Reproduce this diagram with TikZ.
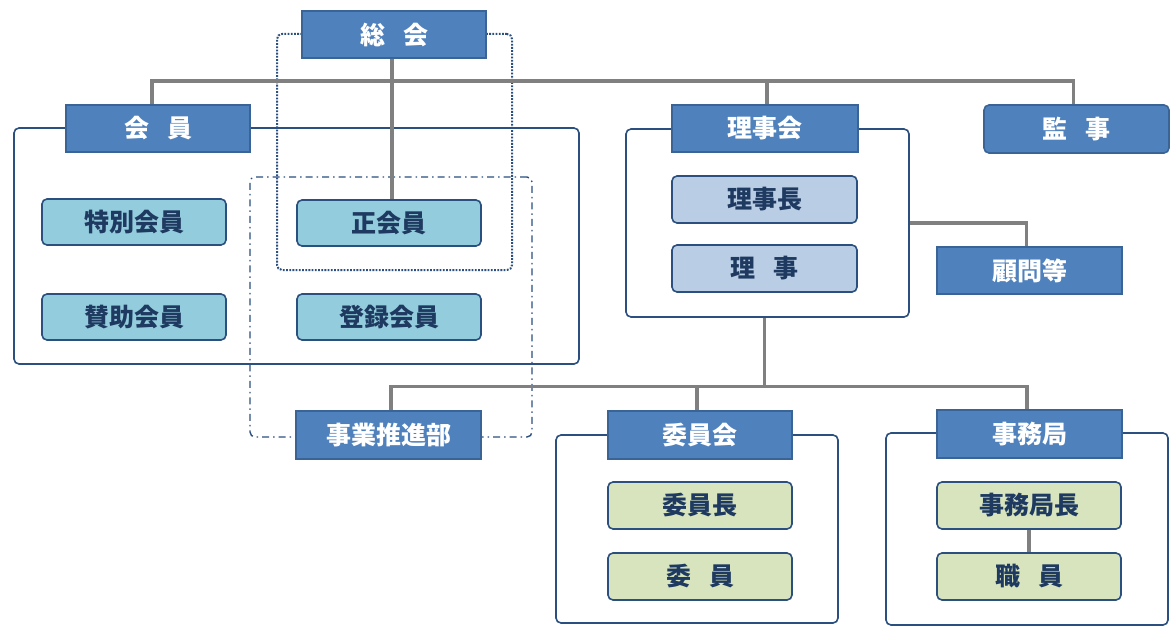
\documentclass[tikz,border=0pt]{standalone}
\usepackage{fontspec}
\newfontfamily\jp{Noto Sans CJK JP}
\newcommand{\jgap}{\hspace{18pt}}
\definecolor{hdrfill}{HTML}{4F81BD}
\definecolor{hdrdraw}{HTML}{3A6396}
\definecolor{navy}{HTML}{2B4F7E}
\definecolor{txtnavy}{HTML}{1F3A60}
\definecolor{cyanfill}{HTML}{93CDDD}
\definecolor{bluefill}{HTML}{B9CDE5}
\definecolor{greenfill}{HTML}{D7E4BD}
\definecolor{linegray}{HTML}{808080}
\tikzset{
  base/.style={font=\jp\bfseries\fontsize{25}{27}\selectfont, inner sep=0pt, line width=1.6pt},
  hdr/.style={base, fill=hdrfill, draw=hdrdraw, text=white, minimum width=184pt, minimum height=47pt},
  sub/.style={base, draw=navy, text=txtnavy, rounded corners=5pt, minimum width=184pt, minimum height=47pt},
  cyanbox/.style={sub, fill=cyanfill},
  bluebox/.style={sub, fill=bluefill},
  greenbox/.style={sub, fill=greenfill},
  outer/.style={draw=navy, fill=white, line width=1.6pt, rounded corners=5pt, inner sep=0pt},
  conn/.style={draw=linegray, line width=3.5pt},
  dottedbox/.style={draw=navy, line width=2pt, rounded corners=5pt, dash pattern=on 1.8pt off 1.4pt, inner sep=0pt},
  dashdotbox/.style={draw=navy, line width=1.4pt, rounded corners=5pt, dash pattern=on 7pt off 4pt on 1.5pt off 4pt, inner sep=0pt},
}
\begin{document}
\begin{tikzpicture}[x=1pt,y=-1pt]
\useasboundingbox (0,0) rectangle (1175,642);
% outer frames
\node[outer, minimum width=565pt, minimum height=236pt] (kaiinbox) at (296.5,246) {};
\node[outer, minimum width=283pt, minimum height=188pt] (rijibox) at (767.5,223) {};
\node[outer, minimum width=282pt, minimum height=188pt] (iinbox) at (697,529) {};
\node[outer, minimum width=282pt, minimum height=192pt] (jimubox) at (1027,529) {};
% group outlines
\node[dottedbox, minimum width=235pt, minimum height=236pt] (grpsokai) at (394.5,152) {};
\node[dashdotbox, minimum width=282pt, minimum height=260pt] (grpjigyo) at (391,307) {};
% headers
\node[hdr] (sokai) at (394,34.5) {総\jgap 会};
\node[hdr] (kaiin) at (158,128.5) {会\jgap 員};
\node[hdr, minimum width=186pt] (rijikai) at (765,128.5) {理事会};
\node[hdr, rounded corners=5pt, minimum width=185pt, minimum height=48pt] (kanji) at (1076.5,129) {監\jgap 事};
\node[hdr, minimum width=185pt] (komon) at (1029.5,270.5) {顧問等};
\node[hdr, minimum width=185pt, minimum height=48pt] (jigyo) at (388.5,435) {事業推進部};
\node[hdr, minimum height=48pt] (iinkai) at (700,435) {委員会};
\node[hdr, minimum width=185pt, minimum height=48pt] (jimukyoku) at (1029.5,434) {事務局};
% members
\node[cyanbox, minimum height=46pt] (tokubetsu) at (134,222) {特別会員};
\node[cyanbox, minimum height=46pt] (seikaiin) at (389,223) {正会員};
\node[cyanbox, minimum height=46pt] (sanjo) at (134,317) {賛助会員};
\node[cyanbox, minimum height=46pt] (toroku) at (389,317) {登録会員};
% board
\node[bluebox, minimum width=185pt] (rijicho) at (764.5,199.5) {理事長};
\node[bluebox, minimum width=185pt] (riji) at (764.5,268.5) {理\jgap 事};
% committee
\node[greenbox] (iincho) at (700,505.5) {委員長};
\node[greenbox] (iin) at (700,576.5) {委\jgap 員};
% secretariat
\node[greenbox] (jimucho) at (1029,505.5) {事務局長};
\node[greenbox] (shokuin) at (1029,576.5) {職\jgap 員};
% connectors
\coordinate (topbus) at (0,81);
\coordinate (lowbus) at (0,386.5);
\draw[conn] ([xshift=-2pt]sokai.south) -- ([xshift=-2pt]sokai.south |- seikaiin.north);
\draw[conn] ([xshift=-6pt]kaiin.north) -- ([xshift=-6pt]kaiin.north |- topbus) -| ([xshift=-3pt]kanji.north);
\draw[conn] ([xshift=2pt]rijikai.north) -- ([xshift=2pt]rijikai.north |- topbus);
\draw[conn] (rijibox.east) -| ([xshift=-3pt]komon.north);
\draw[conn] ([xshift=-3pt]rijibox.south) -- ([xshift=-3pt]rijibox.south |- lowbus);
\draw[conn] ([xshift=2.5pt]jigyo.north) -- ([xshift=2.5pt]jigyo.north |- lowbus) -| ([xshift=-2.5pt]jimukyoku.north);
\draw[conn] ([xshift=-3pt]iinkai.north) -- ([xshift=-3pt]iinkai.north |- lowbus);
\draw[conn] (jimucho.south) -- (shokuin.north);
\end{tikzpicture}
\end{document}
